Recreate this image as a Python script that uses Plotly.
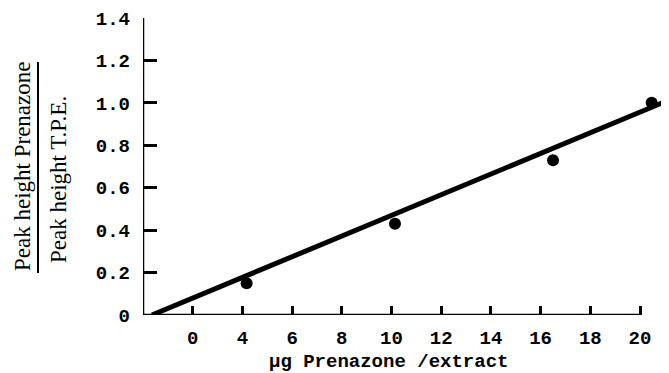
import plotly.graph_objects as go

# Data
amount_ug = [4.17, 10.14, 16.5, 20.47]
peak_ratio = [0.15, 0.43, 0.73, 1.0]

fit_x = [0.36, 21.1]
fit_y = [0.0, 1.01]

x_tick_vals = [2, 4, 6, 8, 10, 12, 14, 16, 18, 20]
x_tick_labels = ["0", "4", "6", "8", "10", "12", "14", "16", "18", "20"]
y_tick_vals = [0, 0.2, 0.4, 0.6, 0.8, 1.0, 1.2, 1.4]
y_tick_labels = ["0", "0.2", "0.4", "0.6", "0.8", "1.0", "1.2", "1.4"]

# The page body has an 8px margin, so the figure is drawn 8px in from the top-left.
OFF = 8
W, H = 669 - OFF, 373 - OFF
AX_X, AX_Y, AX_TOP = 143, 315, 18          # reference-pixel positions of axes
ML, MT = AX_X - OFF, AX_TOP - OFF
MR = 0
PW = W - ML - MR
PH = AX_Y - AX_TOP
MB = H - MT - PH

tickfont = dict(family="Liberation Mono", size=19, color="black", weight="bold")
serif = dict(family="Liberation Serif", size=23, color="black")

fig = go.Figure()
fig.add_trace(go.Scatter(x=fit_x, y=fit_y, mode="lines",
                         line=dict(color="black", width=5),
                         cliponaxis=False, showlegend=False))
fig.add_trace(go.Scatter(x=amount_ug, y=peak_ratio, mode="markers",
                         marker=dict(color="black", size=12),
                         cliponaxis=False, showlegend=False))

fig.update_xaxes(range=[0, PW / 24.85], tickvals=x_tick_vals, ticktext=x_tick_labels,
                 ticks="inside", ticklen=9, tickwidth=2.5, tickcolor="black",
                 showgrid=False, zeroline=False, showline=False,
                 tickfont=tickfont, ticklabelstandoff=9)
fig.update_yaxes(range=[0, 1.4], tickvals=y_tick_vals, ticktext=y_tick_labels,
                 ticks="inside", ticklen=14, tickwidth=2.5, tickcolor="black",
                 showgrid=False, zeroline=False, showline=False,
                 tickfont=tickfont, ticklabelstandoff=12)

# axis spines
fig.add_shape(type="line", xref="x", yref="y", x0=0, x1=0, y0=0, y1=1.4,
              line=dict(color="black", width=2.5))
fig.add_shape(type="line", xref="x", yref="y", x0=0, x1=20, y0=0, y1=0,
              line=dict(color="black", width=2.5))

def py(p):
    return (AX_Y - p) / PH

# y-axis title as a fraction
fig.add_annotation(text="Peak height Prenazone", xref="paper", yref="paper",
                   x=0, xshift=22 - AX_X, y=py(167), textangle=-90, showarrow=False,
                   font=serif, xanchor="center", yanchor="middle")
fig.add_shape(type="line", xref="paper", yref="paper", xsizemode="pixel", xanchor=0,
              x0=38 - AX_X, x1=38 - AX_X, y0=py(273), y1=py(62),
              line=dict(color="black", width=2))
fig.add_annotation(text="Peak height T.P.E.", xref="paper", yref="paper",
                   x=0, xshift=58 - AX_X, y=py(180), textangle=-90, showarrow=False,
                   font=serif, xanchor="center", yanchor="middle")

# x-axis title
fig.add_annotation(text="µg Prenazone /extract", xref="paper", yref="paper",
                   x=0, xshift=388 - AX_X, y=py(362), showarrow=False,
                   font=dict(family="Liberation Mono", size=19, color="black", weight="bold"),
                   xanchor="center", yanchor="middle")

fig.update_layout(width=W, height=H, margin=dict(l=ML, r=MR, t=MT, b=MB),
                  plot_bgcolor="white", paper_bgcolor="white")

fig.write_html("out.html")
